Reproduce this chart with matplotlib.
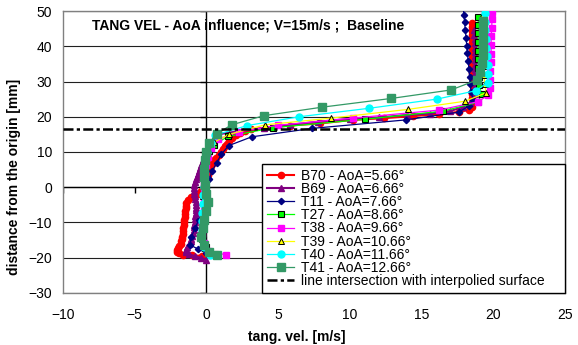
import matplotlib
matplotlib.use('Agg')
import matplotlib.pyplot as plt

plt.rcParams['font.family'] = ['Liberation Sans', 'DejaVu Sans']

# tangential velocity [m/s] vs distance from origin [mm]
b70_d = [-19.5, -19.3, -19.2, -18.8, -18.3, -17.8, -17.2, -16.6, -16.0, -15.4,
         -14.8, -14.0, -13.2, -12.4, -11.6, -10.8, -10.0, -9.2, -8.4, -7.6,
         -6.8, -6.0, -5.2, -4.4, -3.6, -2.8, -2.0, -1.2, -0.4, 0.4,
         1.2, 2.0, 2.8, 3.6, 4.4, 5.2, 6.0, 6.8, 7.6, 8.4,
         9.2, 10.0, 10.8, 11.6, 12.4, 13.2, 14.0, 14.8, 15.4, 15.9,
         16.4, 17.5, 18.1, 19.1, 19.6, 20.2, 20.7, 21.4, 21.9, 22.8,
         24.0, 25.2, 26.4, 27.6, 28.8, 30.0, 31.2, 32.4, 33.6, 34.8,
         36.0, 37.2, 38.4, 39.6, 40.8, 42.0, 43.2, 44.4, 45.6, 46.5]
b70_v = [-0.33, -1.0, -1.6, -1.9, -2.05, -2.07, -2.0, -1.9, -1.8, -1.75,
         -1.72, -1.68, -1.65, -1.62, -1.6, -1.57, -1.55, -1.53, -1.5, -1.48,
         -1.46, -1.44, -1.42, -1.4, -1.3, -1.1, -0.6, -0.35, -0.2, -0.15,
         -0.1, -0.05, 0.0, 0.08, 0.15, 0.25, 0.35, 0.45, 0.55, 0.7,
         0.85, 1.0, 1.15, 1.3, 1.45, 1.6, 1.8, 2.05, 2.35, 2.7,
         3.1, 5.8, 7.9, 10.2, 12.4, 14.4, 16.2, 17.6, 18.3, 18.5,
         18.5, 18.55, 18.55, 18.6, 18.6, 18.6, 18.55, 18.55, 18.55, 18.55,
         18.55, 18.55, 18.5, 18.5, 18.5, 18.5, 18.5, 18.5, 18.5, 18.5]

b69_d = [-20.6, -20.0, -19.6, -19.0, -18.4, -17.8, -17.0, -16.2, -15.4, -14.6,
         -13.8, -13.0, -12.2, -11.4, -10.6, -9.8, -9.0, -8.2, -7.4, -6.6,
         -5.8, -5.0, -4.2, -3.4, -2.6, -1.8, -1.0, -0.2, 0.6, 1.4,
         2.2, 3.0, 3.8, 4.6, 5.4, 6.2, 7.0, 7.8, 8.6, 9.4,
         10.2, 11.0, 11.8, 12.6, 13.4, 14.2, 15.0, 15.8, 16.8, 17.7,
         18.6, 19.4, 19.8, 20.5, 20.9, 21.6, 22.8, 24.0, 25.2, 26.4,
         27.6, 28.8, 30.0, 31.2, 32.4, 33.6, 34.8, 36.0, 37.2, 38.4,
         39.6, 40.8, 42.0, 43.2, 44.6]
b69_v = [0.0, -0.4, -0.8, -1.2, -1.4, -1.45, -1.35, -1.2, -1.1, -1.05,
         -1.0, -0.95, -0.9, -0.88, -0.85, -0.83, -0.8, -0.78, -0.75, -0.73,
         -0.72, -0.72, -0.74, -0.78, -0.82, -0.86, -0.88, -0.88, -0.85, -0.8,
         -0.74, -0.67, -0.6, -0.52, -0.45, -0.38, -0.3, -0.22, -0.14, -0.06,
         0.02, 0.1, 0.2, 0.3, 0.45, 0.6, 0.8, 2.1, 4.0, 5.83,
         7.8, 10.0, 12.06, 13.97, 15.6, 17.0, 17.9, 18.4, 18.6, 18.7,
         18.7, 18.7, 18.75, 18.75, 18.75, 18.75, 18.75, 18.7, 18.7, 18.7,
         18.7, 18.7, 18.7, 18.65, 18.65]

t11_d = [-18.7, -17.5, -16.4, -14.1, -11.7, -9.4, -7.1, -4.7, -2.4, -0.1,
         2.3, 4.6, 7.0, 9.4, 11.8, 14.3, 16.7, 19.1, 21.3, 23.1,
         24.8, 27.0, 29.2, 31.4, 33.6, 35.8, 38.0, 40.2, 42.4, 44.6,
         46.8, 49.0, 51.2]
t11_v = [0.0, -0.6, -1.15, -1.05, -0.8, -0.55, -0.33, -0.2, -0.1, 0.0,
         0.2, 0.4, 0.72, 1.05, 1.55, 3.16, 7.39, 13.9, 17.6, 18.3,
         18.6, 18.45, 18.4, 18.35, 18.3, 18.25, 18.2, 18.15, 18.1, 18.05,
         18.0, 17.95, 17.9]

t27_d = [-19.0, -17.1, -14.6, -12.1, -9.6, -7.1, -4.6, -2.1, 0.4,
         2.9, 5.4, 7.9, 10.4, 12.0, 14.4, 16.9, 19.3, 21.6, 24.1,
         26.5, 29.0, 31.4, 33.9, 36.3, 38.8, 41.2, 43.7, 46.1, 48.4]
t27_v = [0.6, -0.05, -0.25, -0.3, -0.25, -0.2, -0.2, -0.2, -0.2,
         -0.15, -0.1, 0.0, 0.2, 0.5, 1.5, 4.67, 11.06, 16.5, 18.9,
         19.2, 19.0, 19.0, 18.95, 18.95, 18.95, 18.95, 18.95, 18.95, 18.96]

t38_d = [-19.2, -18.0, -15.8, -13.4, -10.9, -8.5, -6.0, -3.6, -1.1,
         1.3, 3.8, 6.2, 8.7, 11.1, 13.6, 15.8, 17.6, 19.6, 21.9,
         24.3, 26.2, 28.1, 30.5, 33.0, 35.4, 37.9, 40.3, 42.8, 45.2,
         47.7, 49.8]
t38_v = [1.35, 0.1, -0.2, -0.3, -0.3, -0.25, -0.2, -0.2, -0.2,
         -0.15, -0.1, 0.0, 0.1, 0.3, 0.8, 2.3, 5.0, 10.2, 16.24,
         18.96, 19.66, 19.75, 19.8, 19.8, 19.85, 19.85, 19.85, 19.85, 19.9,
         19.9, 19.9]

t39_d = [-19.0, -17.2, -14.7, -12.2, -9.7, -7.2, -4.7, -2.4, 0.3,
         2.8, 5.3, 7.8, 10.3, 12.7, 15.0, 17.7, 19.6, 22.1, 24.4,
         26.8, 29.3, 31.8, 34.3, 36.8, 39.3, 41.8, 44.3, 46.8, 49.3]
t39_v = [0.3, -0.1, -0.3, -0.35, -0.3, -0.25, -0.2, -0.25, -0.2,
         -0.15, -0.1, 0.0, 0.15, 0.5, 1.58, 4.09, 8.67, 14.08, 18.03,
         19.5, 19.4, 19.35, 19.3, 19.3, 19.3, 19.3, 19.3, 19.25, 19.25]

t40_d = [-19.2, -17.0, -14.5, -12.1, -9.6, -7.2, -4.7, -2.3, 0.2,
         2.6, 5.1, 7.6, 10.1, 12.6, 14.8, 17.5, 20.0, 22.4, 25.0,
         27.4, 29.7, 32.2, 34.7, 37.1, 39.6, 42.1, 44.5, 47.0, 49.4]
t40_v = [0.25, -0.2, -0.35, -0.3, -0.3, -0.3, -0.25, -0.25, -0.2,
         -0.2, -0.15, -0.1, 0.02, 0.3, 0.6, 2.85, 6.48, 11.34, 16.06,
         18.8, 19.6, 19.65, 19.6, 19.55, 19.5, 19.5, 19.45, 19.45, 19.4]

t41_d = [-19.3, -18.3, -16.4, -14.0, -11.7, -9.3, -6.8, -4.3, -1.9,
         0.6, 2.9, 5.2, 7.6, 10.1, 12.6, 15.2, 17.7, 20.3, 22.7,
         25.2, 27.6, 30.4, 32.8, 35.2, 37.6, 40.0, 42.4, 44.8, 47.3]
t41_v = [0.72, 0.15, -0.2, -0.35, -0.25, -0.15, 0.0, 0.1, 0.0,
         -0.1, -0.15, -0.17, -0.1, -0.05, 0.2, 0.72, 1.76, 4.0, 8.04,
         12.9, 17.05, 18.85, 19.1, 19.2, 19.25, 19.25, 19.3, 19.3, 19.3]

surface_d = 16.4  # line intersection with interpolated surface

labels = ['B70 - AoA=5.66°', 'B69 - AoA=6.66°', 'T11 - AoA=7.66°',
          'T27 - AoA=8.66°', 'T38 - AoA=9.66°', 'T39 - AoA=10.66°',
          'T40 - AoA=11.66°', 'T41 - AoA=12.66°']
x_ticks = [-10, -5, 0, 5, 10, 15, 20, 25]
y_ticks = [-30, -20, -10, 0, 10, 20, 30, 40, 50]

series = [
    (b70_v, b70_d, dict(color='#FF0000', marker='o', ms=4.5, lw=1.5, mec='#FF0000')),
    (b69_v, b69_d, dict(color='#800080', marker='^', ms=4.5, lw=1.5, mec='#800080')),
    (t11_v, t11_d, dict(color='#000080', marker='D', ms=3.2, lw=0.9, mec='#000080')),
    (t27_v, t27_d, dict(color='#00FF00', marker='s', ms=5, lw=0.9, mec='black', mew=0.8)),
    (t38_v, t38_d, dict(color='#FF00FF', marker='s', ms=5, lw=0.9, mec='#FF00FF')),
    (t39_v, t39_d, dict(color='#FFFF00', marker='^', ms=5, lw=0.9, mec='black', mew=0.7)),
    (t40_v, t40_d, dict(color='#00FFFF', marker='o', ms=5, lw=0.9, mec='#00FFFF')),
    (t41_v, t41_d, dict(color='#339966', marker='s', ms=5.5, lw=0.9, mec='#339966')),
]

fig = plt.figure(figsize=(5.78, 3.45), dpi=100)
ax = fig.add_axes([0.109, 0.151, 0.8685, 0.817])

ax.set_xlim(x_ticks[0], x_ticks[-1])
ax.set_ylim(y_ticks[0], y_ticks[-1])
ax.set_xticks(x_ticks)
ax.set_yticks(y_ticks)
ax.tick_params(axis='both', length=0, labelsize=10, colors='black')
ax.tick_params(axis='x', pad=11)
ax.tick_params(axis='y', pad=8)

ax.yaxis.grid(True, color='#202020', lw=0.8)
ax.set_axisbelow(True)
for sp in ax.spines.values():
    sp.set_color('#808080')
    sp.set_linewidth(1)

# axes crossing at zero, Excel style
ax.axhline(0, color='black', lw=1, zorder=1)
ax.axvline(0, color='black', lw=1, zorder=1)
ax.plot(x_ticks, [0] * len(x_ticks), ls='none', marker=3, ms=4, color='black', zorder=1)
ax.plot([0] * len(y_ticks), y_ticks, ls='none', marker=0, ms=4, color='black', zorder=1)

handles = []
for (v, d, style), lab in zip(series, labels):
    h, = ax.plot(v, d, label=lab, zorder=3, **style)
    handles.append(h)

h = ax.axhline(surface_d, color='black', lw=1.8, linestyle=(0, (4, 1.3, 1.3, 1.3)),
               label='line intersection with interpolied surface', zorder=4)
handles.append(h)

ax.text(0.058, 0.95, 'TANG VEL - AoA influence; V=15m/s ;  Baseline',
        transform=ax.transAxes, fontsize=10, fontweight='bold', ha='left', va='center')

ax.set_xlabel('tang. vel. [m/s]', fontsize=10, fontweight='bold')
ax.xaxis.set_label_coords(0.466, -0.13)
ax.set_ylabel('distance from the origin [mm]', fontsize=10, fontweight='bold')
ax.yaxis.set_label_coords(-0.084, 0.41)

leg = ax.legend(handles=handles, loc='lower left', bbox_to_anchor=(0.396, 0.0, 0.604, 0.43),
                mode='expand', borderaxespad=0, fontsize=10, labelspacing=-0.06,
                handlelength=2.0, handletextpad=0.45, borderpad=0.35,
                fancybox=False, framealpha=1)
leg.get_frame().set_edgecolor('black')
leg.get_frame().set_linewidth(1)

fig.savefig('out.png', dpi=100)
